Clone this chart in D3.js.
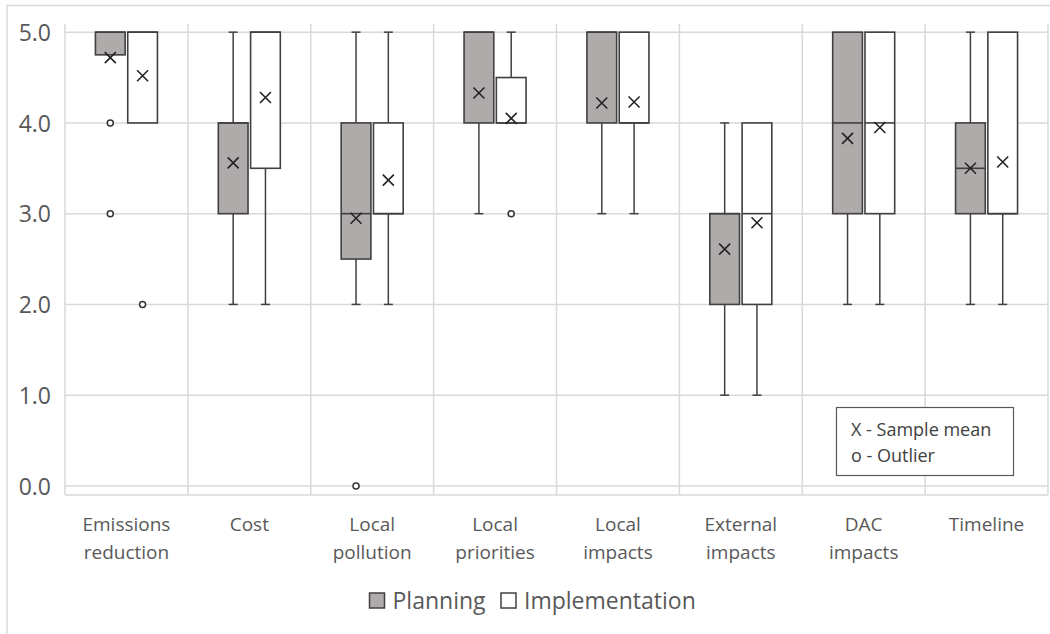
<!DOCTYPE html>
<html>
<head>
<meta charset="utf-8">
<script src="https://cdn.jsdelivr.net/npm/d3@7"></script>
<style>
  html, body { margin: 0; padding: 0; background: #fff; }
  svg { display: block; font-family: "Open Sans", Lato, sans-serif; }
</style>
</head>
<body>
<svg id="chart" width="1050" height="634"></svg>
<script>
// Criteria rated on a 0–5 scale, one box per phase
const categories = ["Emissions reduction", "Cost", "Local pollution", "Local priorities",
                    "Local impacts", "External impacts", "DAC impacts", "Timeline"];
const categoryLines = [["Emissions", "reduction"], ["Cost"], ["Local", "pollution"], ["Local", "priorities"],
                       ["Local", "impacts"], ["External", "impacts"], ["DAC", "impacts"], ["Timeline"]];
const seriesNames = ["Planning", "Implementation"];
const yTicks = [0, 1, 2, 3, 4, 5];

// Planning
const planMin      = [4.75, 2, 2, 3, 3, 1, 2, 2];
const planQ1       = [4.75, 3, 2.5, 4, 4, 2, 3, 3];
const planMedian   = [5, 4, 3, 5, 5, 3, 4, 3.5];
const planQ3       = [5, 4, 4, 5, 5, 3, 5, 4];
const planMax      = [5, 5, 5, 5, 5, 4, 5, 5];
const planMean     = [4.72, 3.56, 2.95, 4.33, 4.22, 2.61, 3.83, 3.5];
const planOutliers = [[4, 3], [], [0], [], [], [], [], []];

// Implementation
const implMin      = [4, 2, 2, 4, 3, 1, 2, 2];
const implQ1       = [4, 3.5, 3, 4, 4, 2, 3, 3];
const implMedian   = [5, 5, 3, 4, 4, 3, 4, 3];
const implQ3       = [5, 5, 4, 4.5, 5, 4, 5, 5];
const implMax      = [5, 5, 5, 5, 5, 4, 5, 5];
const implMean     = [4.52, 4.28, 3.37, 4.05, 4.23, 2.9, 3.95, 3.57];
const implOutliers = [[2], [], [], [3], [], [], [], []];

const seriesFill = ["#afabab", "#ffffff"];
const ink = "#404040";
const gridColor = "#d9d9d9";
const textColor = "#595959";

function buildStats(mins, q1s, meds, q3s, maxs, means, outs) {
  return categories.map((c, i) => ({
    category: c, min: mins[i], q1: q1s[i], median: meds[i], q3: q3s[i],
    max: maxs[i], mean: means[i], outliers: outs[i]
  }));
}
const series = [
  { name: seriesNames[0], fill: seriesFill[0], stats: buildStats(planMin, planQ1, planMedian, planQ3, planMax, planMean, planOutliers) },
  { name: seriesNames[1], fill: seriesFill[1], stats: buildStats(implMin, implQ1, implMedian, implQ3, implMax, implMean, implOutliers) }
];

const svg = d3.select("#chart");

// outer frame (only left and top edges fall inside the canvas)
svg.append("path")
  .attr("d", "M7,634 V5.5 H1050")
  .attr("fill", "none").attr("stroke", "#d9d9d9").attr("stroke-width", 1.5);

const plot = { left: 65, right: 1048, top: 24, bottom: 495 };

const x = d3.scaleBand().domain(categories).range([plot.left, plot.right]).padding(0);
const xSub = d3.scaleBand().domain(seriesNames).range([-31, 31]).paddingInner(0.08);
const y = d3.scaleLinear().domain([-0.1, 5.09]).range([plot.bottom, plot.top]);

// grid
const grid = svg.append("g");
grid.selectAll("line.h").data(yTicks.concat([-0.1])).join("line")
  .attr("x1", plot.left).attr("x2", plot.right)
  .attr("y1", d => y(d)).attr("y2", d => y(d))
  .attr("stroke", gridColor).attr("stroke-width", 1.5);
const edges = categories.map(c => x(c)).concat([plot.right]);
grid.selectAll("line.v").data(edges).join("line")
  .attr("x1", d => d).attr("x2", d => d)
  .attr("y1", plot.top).attr("y2", plot.bottom)
  .attr("stroke", gridColor).attr("stroke-width", 1.5);

// y axis labels
const yAxis = d3.axisLeft(y).tickValues(yTicks).tickFormat(d3.format(".1f")).tickSize(0).tickPadding(0);
const yg = svg.append("g").attr("transform", "translate(51,0)").call(yAxis);
yg.select(".domain").remove();
yg.selectAll("text").attr("font-size", 23).attr("fill", textColor)
  .attr("font-family", "'Open Sans', Lato, sans-serif").attr("dy", "0.36em");

// x axis labels
const xl = svg.append("g");
categories.forEach((c, i) => {
  const t = xl.append("text")
    .attr("x", x(c) + x.bandwidth() / 2)
    .attr("text-anchor", "middle")
    .attr("font-size", 19).attr("fill", textColor);
  categoryLines[i].forEach((ln, j) => {
    t.append("tspan").attr("x", x(c) + x.bandwidth() / 2).attr("y", 530.5 + j * 28.5).text(ln);
  });
});

// boxes
const capHalf = 4.5;
const xHalf = 5.5;
series.forEach(s => {
  const g = svg.append("g");
  s.stats.forEach(d => {
    const cx = x(d.category) + x.bandwidth() / 2 + xSub(s.name) + xSub.bandwidth() / 2;
    const bw = xSub.bandwidth();
    // whiskers
    if (d.max > d.q3) {
      g.append("line").attr("x1", cx).attr("x2", cx).attr("y1", y(d.q3)).attr("y2", y(d.max))
        .attr("stroke", ink).attr("stroke-width", 1.5);
      g.append("line").attr("x1", cx - capHalf).attr("x2", cx + capHalf).attr("y1", y(d.max)).attr("y2", y(d.max))
        .attr("stroke", ink).attr("stroke-width", 1.5);
    }
    if (d.min < d.q1) {
      g.append("line").attr("x1", cx).attr("x2", cx).attr("y1", y(d.q1)).attr("y2", y(d.min))
        .attr("stroke", ink).attr("stroke-width", 1.5);
      g.append("line").attr("x1", cx - capHalf).attr("x2", cx + capHalf).attr("y1", y(d.min)).attr("y2", y(d.min))
        .attr("stroke", ink).attr("stroke-width", 1.5);
    }
    // box
    g.append("rect")
      .attr("x", cx - bw / 2).attr("width", bw)
      .attr("y", y(d.q3)).attr("height", y(d.q1) - y(d.q3))
      .attr("fill", s.fill).attr("stroke", ink).attr("stroke-width", 1.6);
    // median
    g.append("line").attr("x1", cx - bw / 2).attr("x2", cx + bw / 2)
      .attr("y1", y(d.median)).attr("y2", y(d.median))
      .attr("stroke", ink).attr("stroke-width", 1.6);
    // mean marker
    const my = y(d.mean);
    g.append("path")
      .attr("d", `M${cx - xHalf},${my - xHalf}L${cx + xHalf},${my + xHalf}M${cx - xHalf},${my + xHalf}L${cx + xHalf},${my - xHalf}`)
      .attr("stroke", "#222").attr("stroke-width", 1.6).attr("fill", "none");
    // outliers
    d.outliers.forEach(o => {
      g.append("circle").attr("cx", cx).attr("cy", y(o)).attr("r", 3)
        .attr("fill", "#fff").attr("stroke", "#333").attr("stroke-width", 1.5);
    });
  });
});

// symbol key
const key = svg.append("g");
key.append("rect").attr("x", 836.5).attr("y", 407.5).attr("width", 177).attr("height", 68)
  .attr("fill", "#fff").attr("stroke", "#595959").attr("stroke-width", 1.2);
key.append("text").attr("x", 851).attr("y", 436).attr("font-size", 18).attr("fill", "#404040").text("X - Sample mean");
key.append("text").attr("x", 851).attr("y", 462).attr("font-size", 18).attr("fill", "#404040").text("o - Outlier");

// series legend
const legendX = [369.5, 501];
const legend = svg.append("g");
series.forEach((s, i) => {
  legend.append("rect").attr("x", legendX[i]).attr("y", 593).attr("width", 15).attr("height", 15)
    .attr("fill", s.fill).attr("stroke", ink).attr("stroke-width", 1.5);
  legend.append("text").attr("x", legendX[i] + 23).attr("y", 608.5)
    .attr("font-size", 23).attr("fill", textColor).text(s.name);
});
</script>
</body>
</html>
